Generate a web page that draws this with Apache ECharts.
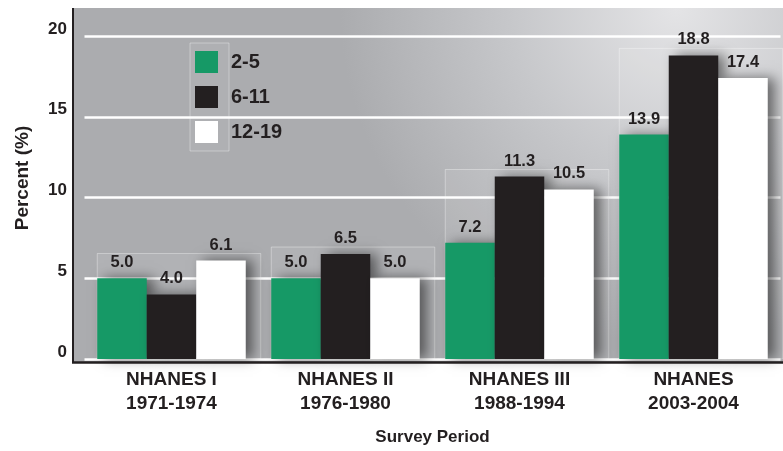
<!DOCTYPE html>
<html>
<head>
<meta charset="utf-8">
<script src="https://cdn.jsdelivr.net/npm/echarts@6/dist/echarts.min.js"></script>
<style>
html,body{margin:0;padding:0;background:#ffffff;}
#chart{width:783px;height:451px;}
</style>
</head>
<body>
<div id="chart"></div>
<script>
var categories = ['NHANES I\n1971-1974', 'NHANES II\n1976-1980', 'NHANES III\n1988-1994', 'NHANES\n2003-2004'];
var seriesNames = ['2-5', '6-11', '12-19'];
var age2to5 = [5.0, 5.0, 7.2, 13.9];
var age6to11 = [4.0, 6.5, 11.3, 18.8];
var age12to19 = [6.1, 5.0, 10.5, 17.4];
var yTicks = [0, 5, 10, 15, 20];

var FONT = "'Liberation Sans', Arial, Helvetica, sans-serif";
var TXT = '#231f20';
var BAR_W = 49.5;

var chart = echarts.init(document.getElementById('chart'), null, {renderer: 'canvas'});

var groupMax = categories.map(function (c, i) {
  return [i, Math.max(age2to5[i], age6to11[i], age12to19[i])];
});

function barSeries(name, data, color) {
  return {
    name: name,
    type: 'bar',
    data: data,
    barWidth: BAR_W,
    barGap: '0%',
    z: 3,
    itemStyle: {
      color: color,
      shadowColor: 'rgba(0,0,0,0.5)',
      shadowBlur: 12,
      shadowOffsetX: 7,
      shadowOffsetY: 0
    },
    label: {
      show: true,
      position: 'top',
      distance: 7,
      fontFamily: FONT,
      fontWeight: 'bold',
      fontSize: 16.5,
      color: TXT,
      formatter: function (p) { return p.value.toFixed(1); }
    }
  };
}

var option = {
  animation: false,
  textStyle: {fontFamily: FONT},
  graphic: [
    {
      type: 'rect',
      z: -100,
      silent: true,
      shape: {x: 73, y: 8, width: 710, height: 354},
      style: {
        fill: new echarts.graphic.RadialGradient(0.85, 0.0, 0.95, [
          {offset: 0, color: '#e4e4e6'},
          {offset: 0.5, color: '#c6c7ca'},
          {offset: 1, color: '#abacaf'}
        ])
      }
    },
    {
      type: 'rect',
      z: 1,
      silent: true,
      shape: {x: 190, y: 43, width: 39, height: 108},
      style: {fill: 'rgba(255,255,255,0.06)', stroke: 'rgba(255,255,255,0.35)', lineWidth: 1}
    },
    {
      type: 'line',
      z: 100,
      silent: true,
      shape: {x1: 73, y1: 8, x2: 73, y2: 363},
      style: {stroke: TXT, lineWidth: 2}
    },
    {
      type: 'line',
      z: 100,
      silent: true,
      shape: {x1: 72, y1: 362.5, x2: 783, y2: 362.5},
      style: {stroke: TXT, lineWidth: 2.5}
    },
    {
      type: 'text',
      z: 100,
      silent: true,
      x: 23,
      y: 178,
      rotation: Math.PI / 2,
      style: {
        text: 'Percent (%)',
        fontFamily: FONT,
        fontWeight: 'bold',
        fontSize: 19,
        fill: TXT,
        align: 'center',
        verticalAlign: 'middle'
      }
    }
  ],
  legend: {
    data: seriesNames,
    orient: 'vertical',
    left: 195,
    top: 51,
    padding: 0,
    itemWidth: 23,
    itemHeight: 22,
    itemGap: 13,
    icon: 'rect',
    textStyle: {fontFamily: FONT, fontWeight: 'bold', fontSize: 20, color: TXT, padding: [0, 0, 0, 8]}
  },
  grid: {left: 84.5, right: 2.5, top: 36, bottom: 89, containLabel: false},
  xAxis: {
    type: 'category',
    data: categories,
    axisLine: {show: false},
    axisTick: {show: false},
    axisLabel: {
      margin: 9,
      fontFamily: FONT,
      fontWeight: 'bold',
      fontSize: 19,
      lineHeight: 24,
      color: TXT
    },
    name: 'Survey Period',
    nameLocation: 'middle',
    nameGap: 70,
    nameTextStyle: {fontFamily: FONT, fontWeight: 'bold', fontSize: 17, color: TXT}
  },
  yAxis: {
    type: 'value',
    min: 0,
    max: 20,
    interval: 5,
    offset: 11.5,
    axisLine: {show: false},
    axisTick: {show: false},
    axisLabel: {
      margin: 6,
      fontFamily: FONT,
      fontWeight: 'bold',
      fontSize: 17,
      color: TXT,
      verticalAlign: 'bottom',
      lineHeight: 14,
      formatter: function (v) { return yTicks.indexOf(v) >= 0 ? String(v) : ''; }
    },
    splitLine: {show: true, lineStyle: {color: '#ffffff', width: 2.5}}
  },
  series: [
    {
      type: 'custom',
      name: 'groupBox',
      z: 1,
      silent: true,
      data: groupMax,
      renderItem: function (params, api) {
        var i = api.value(0);
        var top = api.coord([i, api.value(1)]);
        var base = api.coord([i, 0]);
        var half = BAR_W * 1.5;
        var x0 = base[0] - half;
        var y0 = top[1] - 7;
        return {
          type: 'rect',
          shape: {x: x0, y: y0, width: half * 2 + 15, height: base[1] - y0},
          style: {fill: 'rgba(255,255,255,0.08)', stroke: 'rgba(255,255,255,0.35)', lineWidth: 1}
        };
      }
    },
    barSeries('2-5', age2to5, '#169966'),
    barSeries('6-11', age6to11, '#231f20'),
    barSeries('12-19', age12to19, '#ffffff')
  ]
};

chart.setOption(option);
</script>
</body>
</html>
